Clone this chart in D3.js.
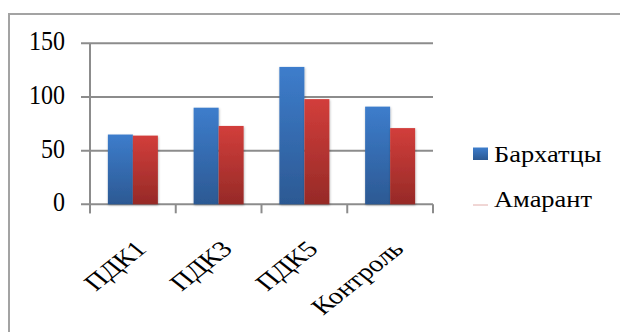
<!DOCTYPE html>
<html>
<head>
<meta charset="utf-8">
<script src="https://cdn.jsdelivr.net/npm/d3@7"></script>
<style>
  html, body { margin: 0; padding: 0; background: #fff; }
  svg { display: block; }
  svg text { font-family: "Liberation Serif", "Times New Roman", Times, serif; fill: #000; }
</style>
</head>
<body>
<svg id="chart" width="620" height="332"></svg>
<script>
// Data
const categories = ["ПДК1", "ПДК3", "ПДК5", "Контроль"];
const seriesNames = ["Бархатцы", "Амарант"];
const barkhattsy = [65, 90, 128, 91];
const amarant = [64, 73, 98, 71];
const yTicks = [0, 50, 100, 150];

const svg = d3.select("#chart");

// Chart frame (right and bottom edges fall outside the view)
svg.append("rect")
  .attr("x", 9).attr("y", 14)
  .attr("width", 640).attr("height", 340)
  .attr("fill", "#fff").attr("stroke", "#a3a3a3").attr("stroke-width", 2);

const plotLeft = 90, plotRight = 433, plotTop = 43.3, plotBottom = 204.3;
const plotW = plotRight - plotLeft, plotH = plotBottom - plotTop;

const g = svg.append("g").attr("transform", `translate(${plotLeft},${plotTop})`);

const x0 = d3.scaleBand().domain(categories).range([0, plotW]);
const x1 = d3.scaleBand().domain(seriesNames).range([0, 50]);
const y = d3.scaleLinear().domain([0, 150]).range([plotH, 0]);

// Bar gradients
const defs = svg.append("defs");
const gradColors = [["#3d7dcc", "#2c5993"], ["#d23e3b", "#962a27"]];
gradColors.forEach((c, i) => {
  const lg = defs.append("linearGradient").attr("id", "grad" + i)
    .attr("x1", 0).attr("y1", 0).attr("x2", 0).attr("y2", 1);
  lg.append("stop").attr("offset", "0%").attr("stop-color", c[0]);
  lg.append("stop").attr("offset", "100%").attr("stop-color", c[1]);
});
const shadow = defs.append("filter").attr("id", "shadow")
  .attr("x", "-20%").attr("y", "-5%").attr("width", "140%").attr("height", "115%");
shadow.append("feDropShadow").attr("dx", 0.5).attr("dy", 1).attr("stdDeviation", 1.2)
  .attr("flood-color", "#000").attr("flood-opacity", 0.3);

// Gridlines (extend left to form the y-axis ticks)
g.append("g").selectAll("line").data(yTicks).join("line")
  .attr("x1", -9).attr("x2", plotW)
  .attr("y1", d => y(d)).attr("y2", d => y(d))
  .attr("stroke", "#8c8c8c").attr("stroke-width", 2);

// Y axis line
g.append("line").attr("x1", 0).attr("x2", 0).attr("y1", 0).attr("y2", plotH + 9)
  .attr("stroke", "#8c8c8c").attr("stroke-width", 2);

// Y tick labels (slightly tall glyphs)
g.append("g").selectAll("text").data(yTicks).join("text")
  .attr("transform", d => `translate(-25,${y(d) + 7}) scale(1,1.15)`)
  .attr("text-anchor", "end").attr("font-size", 24)
  .text(d => d);

// X axis tick marks at band boundaries
const boundaries = categories.map(c => x0(c)).concat([plotW]);
g.append("g").selectAll("line").data(boundaries).join("line")
  .attr("x1", d => d).attr("x2", d => d).attr("y1", plotH).attr("y2", plotH + 9)
  .attr("stroke", "#8c8c8c").attr("stroke-width", 2);

// Bars
const groupOffset = (x0.bandwidth() - 50) / 2;
const seriesData = [barkhattsy, amarant];
seriesNames.forEach((s, si) => {
  g.append("g").selectAll("rect").data(categories).join("rect")
    .attr("x", c => x0(c) + groupOffset + x1(s))
    .attr("width", x1.bandwidth())
    .attr("y", (c, i) => y(seriesData[si][i]))
    .attr("height", (c, i) => plotH - y(seriesData[si][i]))
    .attr("fill", `url(#grad${si})`)
    .attr("filter", "url(#shadow)");
});

// X axis labels, rotated and widened
g.append("g").selectAll("text").data(categories).join("text")
  .attr("transform", c => `translate(${x0(c) + x0.bandwidth() / 2 + 15},${plotH + 46}) scale(1.25,1) rotate(-45)`)
  .attr("text-anchor", "end").attr("font-size", 23)
  .text(c => c);

// Legend
const legend = svg.append("g");
legend.append("rect").attr("x", 473).attr("y", 147.5).attr("width", 15).attr("height", 12.5)
  .attr("fill", "url(#grad0)");
legend.append("text").attr("transform", "translate(494,161.5) scale(1.15,1)")
  .attr("font-size", 23).text(seriesNames[0]);
legend.append("line").attr("x1", 473).attr("x2", 488).attr("y1", 205).attr("y2", 205)
  .attr("stroke", "#e2aeab").attr("stroke-width", 1);
legend.append("text").attr("transform", "translate(494,206.5) scale(1.15,1)")
  .attr("font-size", 23).text(seriesNames[1]);
</script>
</body>
</html>
